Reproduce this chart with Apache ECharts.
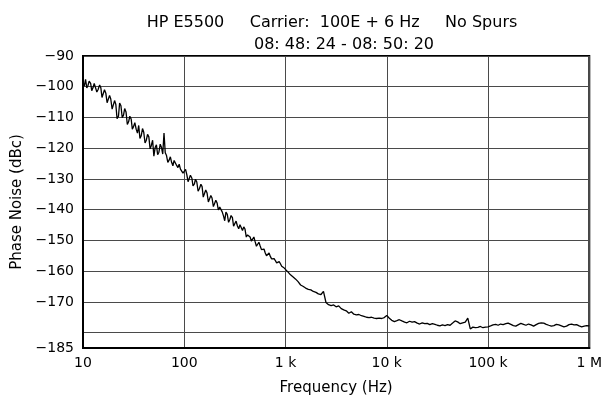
<!DOCTYPE html>
<html>
<head>
<meta charset="utf-8">
<script src="https://cdn.jsdelivr.net/npm/echarts@6/dist/echarts.min.js"></script>
<style>
  html, body { margin: 0; padding: 0; background: #fff; }
  #chart { width: 605px; height: 402px; }
</style>
</head>
<body>
<div id="chart"></div>
<script>
// Phase noise sweep: offset frequency (Hz) and single-sideband phase noise (dBc)
const freqHz = [
  10, 10.3, 10.6, 10.9, 11.2, 11.5, 11.9, 12.2, 12.6, 12.9, 13.3, 13.7, 14.1, 14.6, 15.0, 15.4, 15.8, 16.3, 16.8, 17.3,
  17.8, 18.3, 18.8, 19.4, 20.0, 20.5, 21.1, 21.7, 22.4, 23.0, 23.7, 24.4, 25.1, 25.8, 26.6, 27.4, 28.2, 29.0, 29.9, 30.7,
  31.6, 32.5, 33.5, 34.5, 35.5, 36.5, 37.6, 38.7, 39.8, 41.0, 42.2, 43.4, 44.7, 46.0, 47.3, 48.7, 50.1, 51.6, 53.1, 54.6,
  56.2, 57.9, 59.6, 61.3, 63.1, 64.9, 66.8, 68.8, 70.8, 72.9, 75.0, 77.2, 79.4, 81.8, 84.1, 86.6, 89.1, 91.7, 94.4, 97.2,
  100, 103, 106, 109, 112, 115, 119, 122, 126, 129, 133, 137, 141, 146, 150, 154, 158, 163, 168, 173,
  178, 183, 188, 194, 200, 205, 211, 217, 224, 230, 237, 244, 251, 258, 266, 274, 282, 290, 299, 307,
  316, 325, 335, 345, 355, 365, 376, 387, 398, 410, 422, 434, 447, 460, 473, 487, 501, 516, 531, 546,
  562, 579, 596, 613, 631, 649, 668, 688, 708, 729, 750, 772, 794, 818, 841, 866, 891, 917, 944, 972,
  1000, 1060, 1120, 1190, 1260, 1330, 1410, 1500, 1580, 1680, 1780, 1880, 2000, 2110, 2240, 2370, 2510, 2660, 2820, 2990,
  3160, 3350, 3550, 3760, 3980, 4220, 4470, 4730, 5010, 5310, 5620, 5960, 6310, 6680, 7080, 7500, 7940, 8410, 8910, 9440,
  10000, 10600, 11200, 11900, 12600, 13300, 14100, 15000, 15800, 16800, 17800, 18800, 20000, 21100, 22400, 23700, 25100, 26600, 28200, 29900,
  31600, 33500, 35500, 37600, 39800, 42200, 44700, 47300, 50100, 53100, 56200, 59600, 63100, 66800, 70800, 75000, 79400, 84100, 89100, 94400,
  100000, 106000, 112000, 119000, 126000, 133000, 141000, 150000, 158000, 168000, 178000, 188000, 200000, 211000, 224000, 237000, 251000, 266000, 282000, 299000,
  316000, 335000, 355000, 376000, 398000, 422000, 447000, 473000, 501000, 531000, 562000, 596000, 631000, 668000, 708000, 750000, 794000, 841000, 891000, 944000,
  1000000
];

const noiseDbc = [
  -98.5, -99.8, -97.6, -100.4, -99.6, -98.2, -98.9, -101.3, -100.2, -98.9, -98.6, -101.7, -100.9, -99.4, -100.3, -103.5, -102.9, -101.0, -102.1, -105.2,
  -104.6, -102.8, -104.0, -107.3, -106.7, -104.5, -105.8, -110.4, -109.6, -105.3, -106.2, -110.1, -109.3, -107.1, -108.2, -112.3, -111.4, -109.6, -110.5, -113.8,
  -112.9, -111.7, -113.8, -115.1, -112.6, -116.8, -115.9, -113.6, -114.8, -118.3, -117.4, -115.5, -116.3, -120.2, -119.1, -117.4, -122.6, -119.8, -118.9, -122.1,
  -121.3, -118.7, -119.8, -121.9, -115.1, -121.5, -122.4, -124.6, -123.9, -122.8, -124.6, -125.7, -124.0, -123.4, -125.6, -126.3, -125.2, -126.8, -127.0, -128.1,
  -127.9, -126.9, -128.6, -130.9, -130.4, -128.8, -129.8, -132.3, -131.6, -130.1, -131.0, -134.0, -133.2, -131.7, -132.5, -135.9, -135.3, -133.6, -134.6, -137.5,
  -136.9, -135.4, -136.2, -139.0, -138.4, -136.9, -137.8, -140.1, -139.1, -138.6, -140.7, -142.0, -143.6, -140.8, -141.5, -144.1, -143.2, -141.9, -142.6, -145.4,
  -144.8, -143.7, -145.3, -146.2, -144.9, -145.8, -146.8, -145.6, -146.3, -148.9, -148.2, -147.6, -148.9, -150.2, -149.6, -148.9, -150.4, -151.9, -151.3, -150.6,
  -151.8, -153.0, -153.3, -152.8, -154.1, -155.0, -154.5, -154.1, -155.2, -156.0, -155.6, -155.9, -156.6, -157.3, -157.0, -156.9, -157.6, -158.4, -158.5, -159.0,
  -159.6, -160.3, -161.2, -161.9, -162.6, -163.4, -164.5, -165.0, -165.5, -165.9, -166.1, -166.6, -166.9, -167.4, -167.6, -166.6, -170.2, -170.9, -171.2, -171.0,
  -171.6, -171.3, -172.2, -172.6, -172.9, -173.7, -173.2, -174.0, -174.2, -174.1, -174.5, -174.7, -175.0, -175.1, -175.0, -175.3, -175.4, -175.3, -175.4, -175.1,
  -174.4, -175.3, -176.0, -176.4, -176.1, -175.8, -176.2, -176.6, -176.8, -176.3, -176.6, -176.4, -176.9, -177.2, -176.8, -177.1, -177.0, -177.4, -177.1, -177.3,
  -177.6, -177.8, -177.5, -177.7, -177.4, -177.6, -176.9, -176.2, -176.5, -177.1, -176.8, -176.6, -175.3, -178.8, -178.2, -178.4, -178.3, -178.0, -178.4, -178.2,
  -178.1, -177.8, -177.5, -177.3, -177.6, -177.2, -177.4, -177.1, -176.9, -177.3, -177.7, -177.9, -177.4, -177.0, -177.3, -177.6, -177.2, -177.5, -177.9, -177.4,
  -177.0, -176.8, -176.9, -177.3, -177.6, -177.9, -177.7, -177.3, -177.5, -177.8, -178.1, -177.9, -177.4, -177.2, -177.5, -177.4, -177.8, -178.1, -177.9, -177.7,
  -177.8
];

// Axis tick labels
const xTickValues = [10, 100, 1000, 10000, 100000, 1000000];
const xTickLabels = ['10', '100', '1 k', '10 k', '100 k', '1 M'];
const yTickValues = [-90, -100, -110, -120, -130, -140, -150, -160, -170, -185];

const titleLine1 = 'HP E5500     Carrier:  100E + 6 Hz     No Spurs';
const titleLine2 = '08: 48: 24 - 08: 50: 20';

const FONT = '"DejaVu Sans", sans-serif';
const GRID_COLOR = '#4a4a4a';

const chart = echarts.init(document.getElementById('chart'), null, { renderer: 'canvas' });

chart.setOption({
  animation: false,
  backgroundColor: '#fff',
  title: [
    { text: titleLine1, left: 327, top: 10, textAlign: 'center',
      textStyle: { fontFamily: FONT, fontSize: 16, fontWeight: 'normal', color: '#000' } },
    { text: titleLine2, left: 339, top: 32, textAlign: 'center',
      textStyle: { fontFamily: FONT, fontSize: 16, fontWeight: 'normal', color: '#000' } }
  ],
  grid: {
    left: 83, right: 12, top: 56, bottom: 54,
    show: true, borderColor: '#000', borderWidth: 2, backgroundColor: 'transparent'
  },
  xAxis: {
    type: 'log', logBase: 10, min: 10, max: 1000000,
    name: 'Frequency (Hz)', nameLocation: 'middle', nameGap: 33,
    nameTextStyle: { fontFamily: FONT, fontSize: 15, color: '#000' },
    axisLine: { show: true, lineStyle: { color: '#000', width: 2 } },
    axisTick: { show: false },
    axisLabel: {
      fontFamily: FONT, fontSize: 14, color: '#000', margin: 8,
      formatter: v => {
        const i = xTickValues.findIndex(t => Math.abs(Math.log10(t) - Math.log10(v)) < 1e-6);
        return i >= 0 ? xTickLabels[i] : '';
      }
    },
    splitLine: { show: true, lineStyle: { color: GRID_COLOR, width: 1 } }
  },
  yAxis: {
    type: 'value', min: -185, max: -90, interval: 5,
    name: 'Phase Noise (dBc)', nameLocation: 'middle', nameGap: 58, nameRotate: 90,
    nameTextStyle: { fontFamily: FONT, fontSize: 15, color: '#000' },
    axisLine: { show: true, lineStyle: { color: '#000', width: 2 } },
    axisTick: { show: false },
    axisLabel: {
      fontFamily: FONT, fontSize: 14, color: '#000', margin: 9,
      formatter: v => yTickValues.includes(v) ? '\u2212' + Math.abs(v) : ''
    },
    // lines every 10 dB from -180 upward; the 5 dB steps in between stay invisible
    splitLine: { show: true, lineStyle: { color: ['transparent', GRID_COLOR], width: 1 } }
  },
  series: [{
    type: 'line',
    data: freqHz.map((f, i) => [f, noiseDbc[i]]),
    showSymbol: false,
    lineStyle: { color: '#000', width: 1.3 },
    clip: true
  }]
});
</script>
</body>
</html>
